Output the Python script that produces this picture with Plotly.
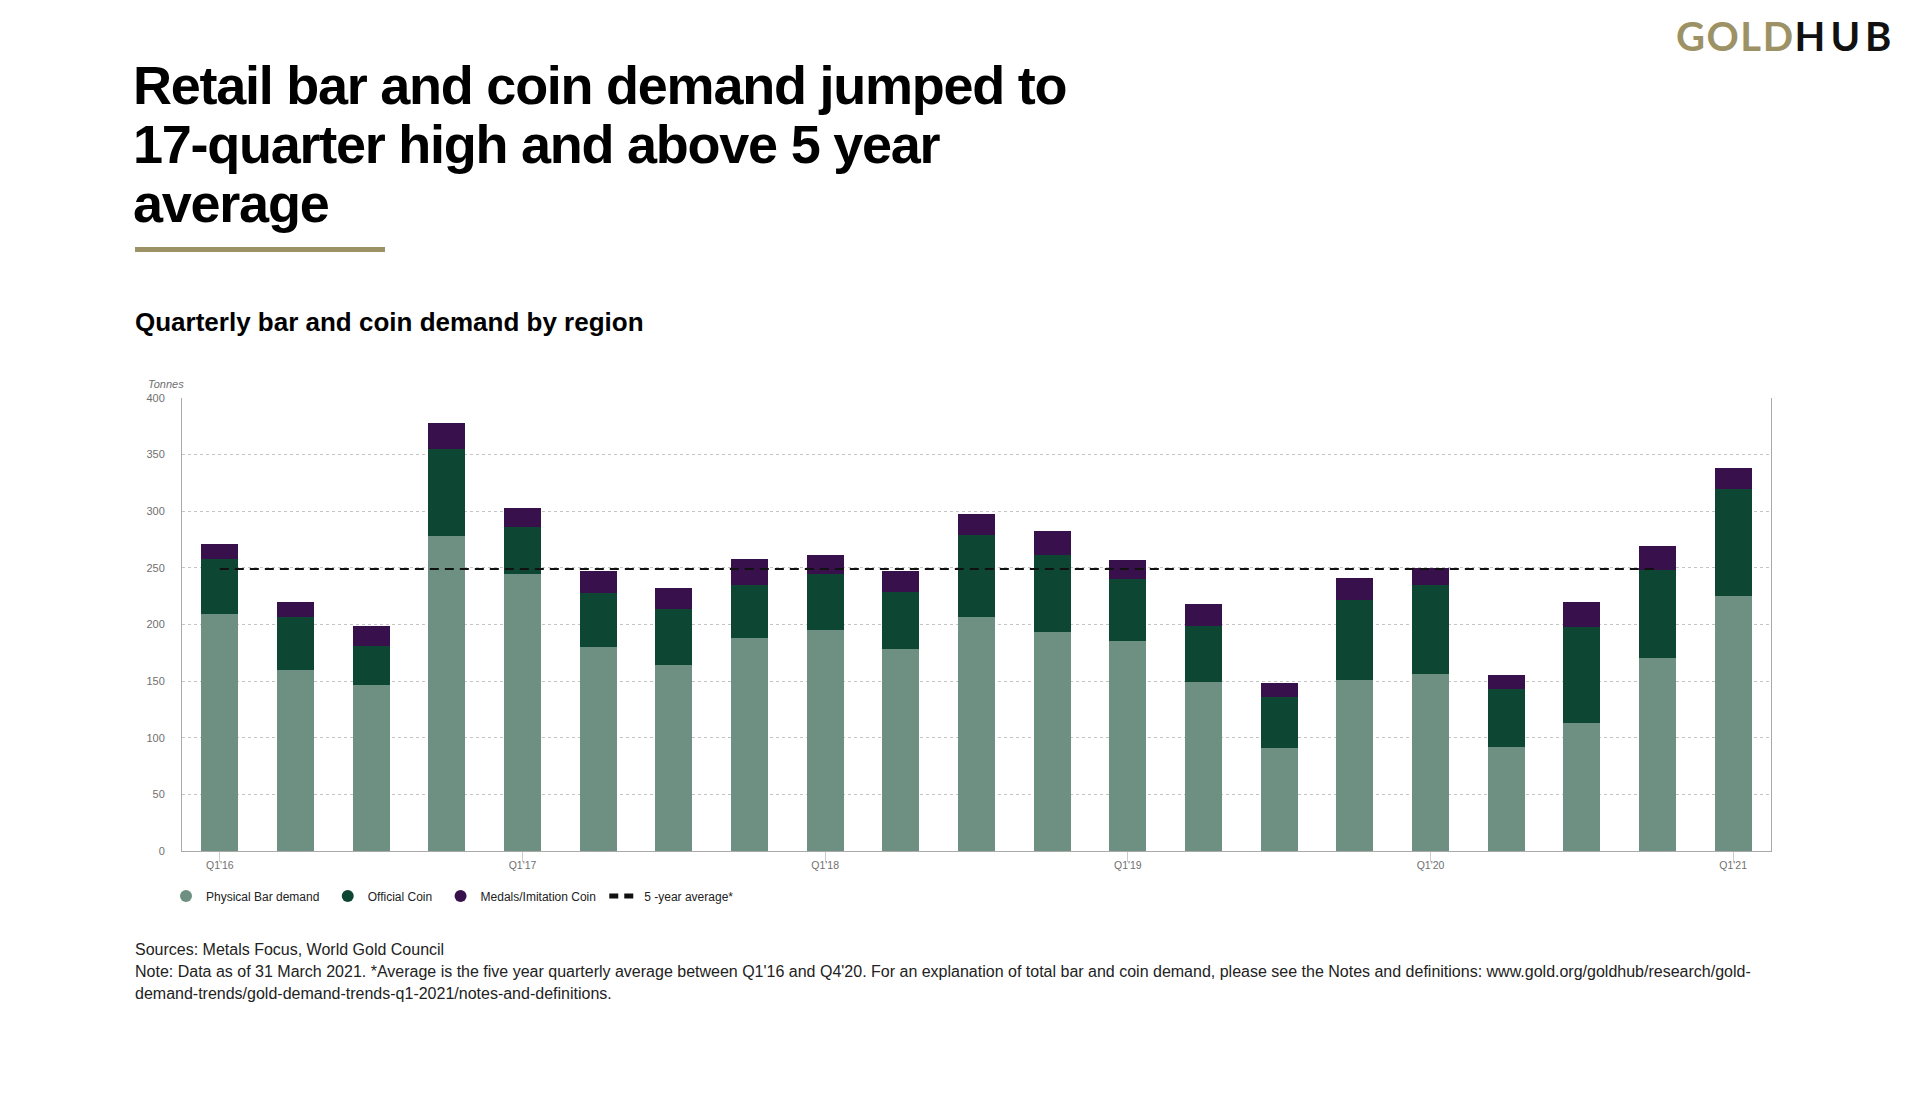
import plotly.graph_objects as go

# ---------------- data ----------------
quarters = ["Q1'16", "Q2'16", "Q3'16", "Q4'16",
            "Q1'17", "Q2'17", "Q3'17", "Q4'17",
            "Q1'18", "Q2'18", "Q3'18", "Q4'18",
            "Q1'19", "Q2'19", "Q3'19", "Q4'19",
            "Q1'20", "Q2'20", "Q3'20", "Q4'20",
            "Q1'21"]
physical_bar = [209, 160, 147, 278, 245, 180, 164, 188, 195, 178, 207,
                193, 185, 149, 91, 151, 156, 92, 113, 170, 225]
official_coin = [49, 47, 34, 77, 41, 48, 50, 47, 50, 51, 72,
                 68, 55, 50, 45, 71, 79, 51, 85, 78, 95]
medals_coin = [13, 13, 18, 23, 17, 19, 18, 23, 16, 18, 19,
               22, 17, 19, 12, 19, 15, 12, 22, 21, 18]
avg_quarters = quarters[:20]          # Q1'16 .. Q4'20
five_year_avg = [249] * len(avg_quarters)
tick_labels = ["Q1'16", "Q1'17", "Q1'18", "Q1'19", "Q1'20", "Q1'21"]
y_ticks = [0, 50, 100, 150, 200, 250, 300, 350, 400]

# ---------------- style ----------------
C_PHYS = "#6E9082"
C_OFF = "#0E4634"
C_MED = "#38104B"
C_GOLD = "#9C9266"
FONT = "Liberation Sans, Arial, Helvetica, sans-serif"

W, H = 1920, 1098
L, R, T, B = 182, 1771, 398, 851   # plot-area pixel edges


def fx(px):
    return (px - L) / (R - L)


def fy(py):
    return (B - py) / (B - T)


fig = go.Figure()

fig.add_trace(go.Bar(x=quarters, y=physical_bar, name="Physical Bar demand",
                     marker=dict(color=C_PHYS, line=dict(width=0)), showlegend=False))
fig.add_trace(go.Bar(x=quarters, y=official_coin, name="Official Coin",
                     marker=dict(color=C_OFF, line=dict(width=0)), showlegend=False))
fig.add_trace(go.Bar(x=quarters, y=medals_coin, name="Medals/Imitation Coin",
                     marker=dict(color=C_MED, line=dict(width=0)), showlegend=False))

# legend-only circle markers
for nm, col in [("Physical Bar demand", C_PHYS), ("Official Coin", C_OFF),
                ("Medals/Imitation Coin", C_MED)]:
    fig.add_trace(go.Scatter(x=[None], y=[None], mode="markers", name=nm + "&nbsp;",
                             marker=dict(symbol="circle", size=12, color=col)))

fig.add_trace(go.Scatter(x=avg_quarters, y=five_year_avg, mode="lines",
                         name="5 -year average*",
                         line=dict(color="#111111", width=2.2, dash="9px,6px")))

fig.update_layout(
    width=W, height=H, autosize=False,
    paper_bgcolor="white", plot_bgcolor="white",
    margin=dict(l=L, r=W - R, t=T, b=H - B, pad=0),
    barmode="stack", bargap=0.51,
    font=dict(family=FONT, color="#222222"),
    showlegend=True,
    legend=dict(orientation="h", x=fx(166), y=fy(896), xanchor="left", yanchor="middle",
                font=dict(size=12, color="#222222", family=FONT),
                bgcolor="rgba(0,0,0,0)", borderwidth=0, traceorder="normal",
                itemsizing="constant"),
)

fig.update_xaxes(
    type="category", categoryorder="array", categoryarray=quarters,
    range=[-0.5, len(quarters) - 0.5],
    tickmode="array", tickvals=tick_labels, ticktext=tick_labels,
    ticks="outside", ticklen=10, tickcolor="#cccccc", tickwidth=1,
    ticklabelstandoff=-6,
    tickfont=dict(size=10.5, color="#707070", family=FONT),
    showline=True, linecolor="#aaaaaa", linewidth=1,
    showgrid=False, zeroline=False,
)
fig.update_yaxes(
    range=[0, 400], tickmode="array", tickvals=y_ticks,
    ticks="", ticklabelstandoff=14,
    tickfont=dict(size=11, color="#707070", family=FONT),
    showgrid=True, gridcolor="#c4c4c4", griddash="dot", gridwidth=1,
    showline=True, linecolor="#aaaaaa", linewidth=1, mirror=True,
    zeroline=False,
)

ann = []


def text(px, py, s, size, color="#000000", weight="normal", style="normal", anchor="left"):
    ann.append(dict(xref="paper", yref="paper", x=fx(px), y=fy(py), text=s,
                    showarrow=False, xanchor=anchor, yanchor="middle",
                    font=dict(size=size, color=color, family=FONT, weight=weight, style=style)))


title_lines = ["Retail bar and coin demand jumped to",
               "17-quarter high and above 5 year",
               "average"]
for i, ln in enumerate(title_lines):
    text(131, 85 + 59 * i, '<span style="letter-spacing:-1.25px">' + ln + '</span>',
         54, "#000000", "bold")

text(133, 322, "Quarterly bar and coin demand by region", 26, "#000000", "bold")
text(146, 384, "Tonnes", 11, "#707070", style="italic")

text(133, 949, "Sources: Metals Focus, World Gold Council", 16, "#222222")
text(133, 971, "Note: Data as of 31 March 2021. *Average is the five year quarterly average "
               "between Q1'16 and Q4'20. For an explanation of total bar and coin demand, please "
               "see the Notes and definitions: www.gold.org/goldhub/research/gold-", 16, "#222222")
text(133, 993, "demand-trends/gold-demand-trends-q1-2021/notes-and-definitions.", 16, "#222222")

# logo
ann.append(dict(xref="paper", yref="paper", x=fx(1674), y=fy(36), showarrow=False,
                xanchor="left", yanchor="middle",
                text='<span style="color:%s;letter-spacing:1.5px">GOLD</span>'
                     '<span style="color:#111111;letter-spacing:5px">HUB</span>' % C_GOLD,
                font=dict(size=40, family="Lato, Montserrat, Noto Sans, sans-serif", weight="bold")))

fig.update_layout(annotations=ann)

fig.add_shape(type="rect", xref="paper", yref="paper",
              x0=fx(135), x1=fx(385), y0=fy(252), y1=fy(247),
              fillcolor=C_GOLD, line=dict(width=0))

fig.write_html("out.html")
